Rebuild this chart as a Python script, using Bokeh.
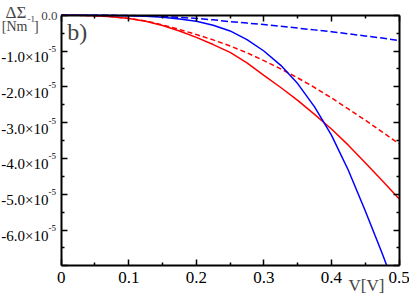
from bokeh.plotting import figure
from bokeh.models import Range1d, FixedTicker, LinearAxis, Label, LabelSet, ColumnDataSource
from bokeh.core.properties import value
from bokeh.embed import file_html
from bokeh.resources import INLINE

# ---- data (values in units of 1e-5 N/m) ----
V = [0.0, 0.025, 0.05, 0.075, 0.1, 0.125, 0.15, 0.175, 0.2, 0.225, 0.25,
     0.275, 0.3, 0.325, 0.35, 0.375, 0.4, 0.425, 0.45, 0.475, 0.5]
red_solid = [0.0, -0.002, -0.015, -0.04, -0.09, -0.17, -0.29, -0.44, -0.62, -0.82, -1.04,
             -1.33, -1.68, -2.02, -2.38, -2.77, -3.18, -3.63, -4.12, -4.62, -5.13]
red_dashed = [0.0, -0.002, -0.015, -0.04, -0.09, -0.16, -0.27, -0.40, -0.54, -0.69, -0.86,
              -1.05, -1.27, -1.50, -1.75, -2.02, -2.31, -2.62, -2.93, -3.26, -3.59]
# solid blue leaves the plot through the bottom axis at V ~ 0.482
V_blue = [0.0, 0.025, 0.05, 0.075, 0.1, 0.125, 0.15, 0.175, 0.2, 0.225, 0.25,
          0.275, 0.3, 0.325, 0.35, 0.375, 0.4, 0.425, 0.45, 0.475, 0.482]
blue_solid = [0.0, 0.0, -0.003, -0.008, -0.017, -0.032, -0.06, -0.105, -0.17, -0.28, -0.44,
              -0.68, -1.00, -1.40, -1.91, -2.56, -3.35, -4.33, -5.46, -6.65, -7.00]
blue_dashed = [0.0, 0.0, 0.0, -0.003, -0.01, -0.02, -0.035, -0.06, -0.09, -0.13, -0.18,
               -0.22, -0.26, -0.31, -0.36, -0.41, -0.46, -0.52, -0.58, -0.64, -0.71]
SCALE = 1e-5

x_ticks = [0.0, 0.1, 0.2, 0.3, 0.4, 0.5]
x_tick_labels = ["0", "0.1", "0.2", "0.3", "0.4", "0.5"]
x_minor = [0.05, 0.15, 0.25, 0.35, 0.45]
y_ticks = [0, -1, -2, -3, -4, -5, -6, -7]
y_minor = [-0.5, -1.5, -2.5, -3.5, -4.5, -5.5, -6.5]
y_label_vals = [-1, -2, -3, -4, -5, -6]
y_label_text = ["-1.0\u00d710", "-2.0\u00d710", "-3.0\u00d710", "-4.0\u00d710", "-5.0\u00d710", "-6.0\u00d710"]
y_label_exp = ["-5", "-5", "-5", "-5", "-5", "-5"]
X_MIN, X_MAX = 0.0, 0.5
Y_MIN, Y_MAX = -7.0, 0.0

FONT = "Liberation Serif"

# layout: plot area from x=60.7..398.5 px and y=14.7..265.3 px in a 409x295 canvas
W, H = 409, 295
L, R, T, B = 60.7, 398.5, 14.7, 265.3
kx = (X_MAX - X_MIN) / (R - L)
ky = (Y_MAX - Y_MIN) / (B - T)
x_range = Range1d(X_MIN - L * kx, X_MAX + (W - R) * kx)
y_range = Range1d((Y_MIN - (H - B) * ky) * SCALE, (Y_MAX + T * ky) * SCALE)

p = figure(width=W, height=H, output_backend="svg", toolbar_location=None,
           x_range=x_range, y_range=y_range,
           min_border_left=0, min_border_right=0, min_border_top=0, min_border_bottom=0,
           background_fill_color="white", border_fill_color="white", outline_line_color=None)
p.grid.visible = False

def ys(vals):
    return [v * SCALE for v in vals]

p.line(V, ys(blue_dashed), line_color="#0000ff", line_width=1.5, line_dash="7 3")
p.line(V, ys(red_dashed), line_color="#ff0000", line_width=1.5, line_dash="5 3")
p.line(V, ys(red_solid), line_color="#ff0000", line_width=1.5)
p.line(V_blue, ys(blue_solid), line_color="#0000ff", line_width=1.5)

def style(ax):
    ax.axis_line_width = 2
    ax.axis_line_color = "black"
    ax.major_tick_in = 6
    ax.major_tick_out = 0
    ax.minor_tick_in = 3
    ax.minor_tick_out = 0
    ax.major_tick_line_width = 1.5
    ax.minor_tick_line_width = 1.5
    ax.major_tick_line_color = "black"
    ax.minor_tick_line_color = "black"
    ax.major_label_text_color = None
    ax.major_label_standoff = 0

xb = p.xaxis[0]
xb.ticker = FixedTicker(ticks=x_ticks, minor_ticks=x_minor)
xb.fixed_location = Y_MIN * SCALE
xb.bounds = (X_MIN, X_MAX)
style(xb)

yl = p.yaxis[0]
yl.ticker = FixedTicker(ticks=ys(y_ticks), minor_ticks=ys(y_minor))
yl.fixed_location = X_MIN
yl.bounds = (Y_MIN * SCALE, Y_MAX * SCALE)
style(yl)

top = LinearAxis(ticker=FixedTicker(ticks=x_ticks, minor_ticks=x_minor),
                 fixed_location=Y_MAX * SCALE, bounds=(X_MIN, X_MAX))
style(top)
p.add_layout(top, "above")
right = LinearAxis(ticker=FixedTicker(ticks=ys(y_ticks), minor_ticks=ys(y_minor)),
                   fixed_location=X_MAX, bounds=(Y_MIN * SCALE, Y_MAX * SCALE))
style(right)
p.add_layout(right, "right")

# x tick labels
xsrc = ColumnDataSource(dict(x=x_ticks, y=[Y_MIN * SCALE] * len(x_ticks), t=x_tick_labels))
p.add_layout(LabelSet(x="x", y="y", text="t", source=xsrc, y_offset=-12,
                      text_align="center", text_baseline="middle",
                      text_font=value(FONT), text_font_size=value("17px"), text_color="black"))

# y tick labels with superscript exponent
src = ColumnDataSource(dict(x=[X_MIN] * len(y_label_vals), y=ys(y_label_vals),
                            t=y_label_text, e=y_label_exp))
p.add_layout(LabelSet(x="x", y="y", text="t", source=src, x_offset=-12.7, y_offset=-6,
                      text_align="right", text_baseline="middle",
                      text_font=value(FONT), text_font_size=value("15px"), text_color="black"))
p.add_layout(LabelSet(x="x", y="y", text="e", source=src, x_offset=-12.7, y_offset=2,
                      text_align="left", text_baseline="middle",
                      text_font=value(FONT), text_font_size=value("9px"), text_color="black"))
p.add_layout(Label(x=X_MIN, y=Y_MAX * SCALE, text="0.0", x_offset=-3.7, y_offset=-1,
                   text_align="right", text_baseline="middle",
                   text_font=FONT, text_font_size="13px"))

# y title
p.add_layout(Label(x=X_MIN, y=Y_MAX * SCALE, text="\u0394\u03a3", x_offset=-45.2, y_offset=3,
                   text_align="center", text_baseline="middle", text_font=FONT, text_font_size="17px"))
p.add_layout(Label(x=X_MIN, y=Y_MAX * SCALE, text="[Nm", x_offset=-33.7, y_offset=-11,
                   text_align="right", text_baseline="middle", text_font=FONT, text_font_size="14px"))
p.add_layout(Label(x=X_MIN, y=Y_MAX * SCALE, text="-1", x_offset=-33.7, y_offset=-3.5,
                   text_align="left", text_baseline="middle", text_font=FONT, text_font_size="9px"))
p.add_layout(Label(x=X_MIN, y=Y_MAX * SCALE, text="]", x_offset=-27.2, y_offset=-11,
                   text_align="left", text_baseline="middle", text_font=FONT, text_font_size="14px"))

# x title
p.add_layout(Label(x=0.4519, y=Y_MIN * SCALE, text="V[V]", y_offset=-19.5, text_align="center",
                   text_baseline="middle", text_font=FONT, text_font_size="17px"))

# panel tag
p.add_layout(Label(x=X_MIN, y=Y_MAX * SCALE, text="b)", x_offset=6, y_offset=-17, text_align="left",
                   text_baseline="middle", text_font=FONT, text_font_size="24px"))

open("out.html", "w").write(file_html(p, INLINE))
